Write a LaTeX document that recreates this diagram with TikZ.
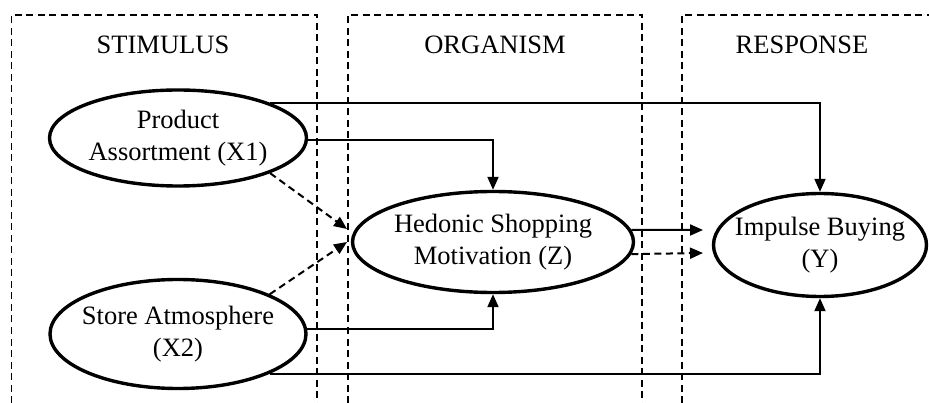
\documentclass[tikz,border=0pt]{standalone}
\usepackage{fontspec}
\setmainfont{Liberation Serif}
\usetikzlibrary{shapes.geometric,arrows.meta}
\newcommand\vartext[1]{\makebox[0pt]{\begin{tabular}{@{}c@{}}#1\end{tabular}}}
\begin{document}
\begin{tikzpicture}[x=1pt,y=-1pt,
  font=\fontsize{26.5}{32}\selectfont,
  var/.style={ellipse,draw,line width=3.4pt,inner sep=0pt},
  zone/.style={line width=1.8pt,dash pattern=on 7pt off 4.5pt},
  arr/.style={line width=2pt,-{Triangle[length=13pt,width=11pt]}},
  darr/.style={arr,dash pattern=on 7pt off 4.5pt},
  ttl/.style={inner sep=0pt,anchor=center}]
\useasboundingbox (0,0) rectangle (929,403);
% zones
\draw[zone] (11.5,403) -- (11.5,15) -- (317,15) -- (317,403);
\draw[zone] (348,403) -- (348,15) -- (642,15) -- (642,403);
\draw[zone] (682,403) -- (682,15) -- (929,15);
% titles
\node[ttl] (tS) at (163,45) {STIMULUS};
\node[ttl] (tO) at (495,45) {ORGANISM};
\node[ttl] (tR) at (802,45) {RESPONSE};
% variables
\node[var,minimum width=257pt,minimum height=96pt] (X1) at (178,138) {\vartext{Product\\Assortment (X1)}};
\node[var,minimum width=256pt,minimum height=109pt] (X2) at (178,334) {\vartext{Store Atmosphere\\(X2)}};
\node[var,minimum width=281pt,minimum height=101pt] (Z) at (493,242) {\vartext{Hedonic Shopping\\Motivation (Z)}};
\node[var,minimum width=213pt,minimum height=103pt] (Y) at (820,245) {\vartext{Impulse Buying\\(Y)}};
% connectors
\draw[arr] (X1.north east) -| (Y.north);
\draw[arr] (X1.-1) -| (Z.north);
\draw[arr] (X2.2) -| (Z.south);
\draw[arr] (X2.south east) -| (Y.south);
\coordinate (zy1) at (703,230);
\coordinate (zy2) at (703,253);
\draw[arr] (Z.5) -- (zy1);
\draw[darr] (Z.-5) -- (zy2);
\coordinate (zin1) at (347,229);
\coordinate (zin2) at (347,242);
\draw[darr] (X1.south east) -- (zin1);
\draw[darr] (X2.north east) -- (zin2);
\end{tikzpicture}
\end{document}
